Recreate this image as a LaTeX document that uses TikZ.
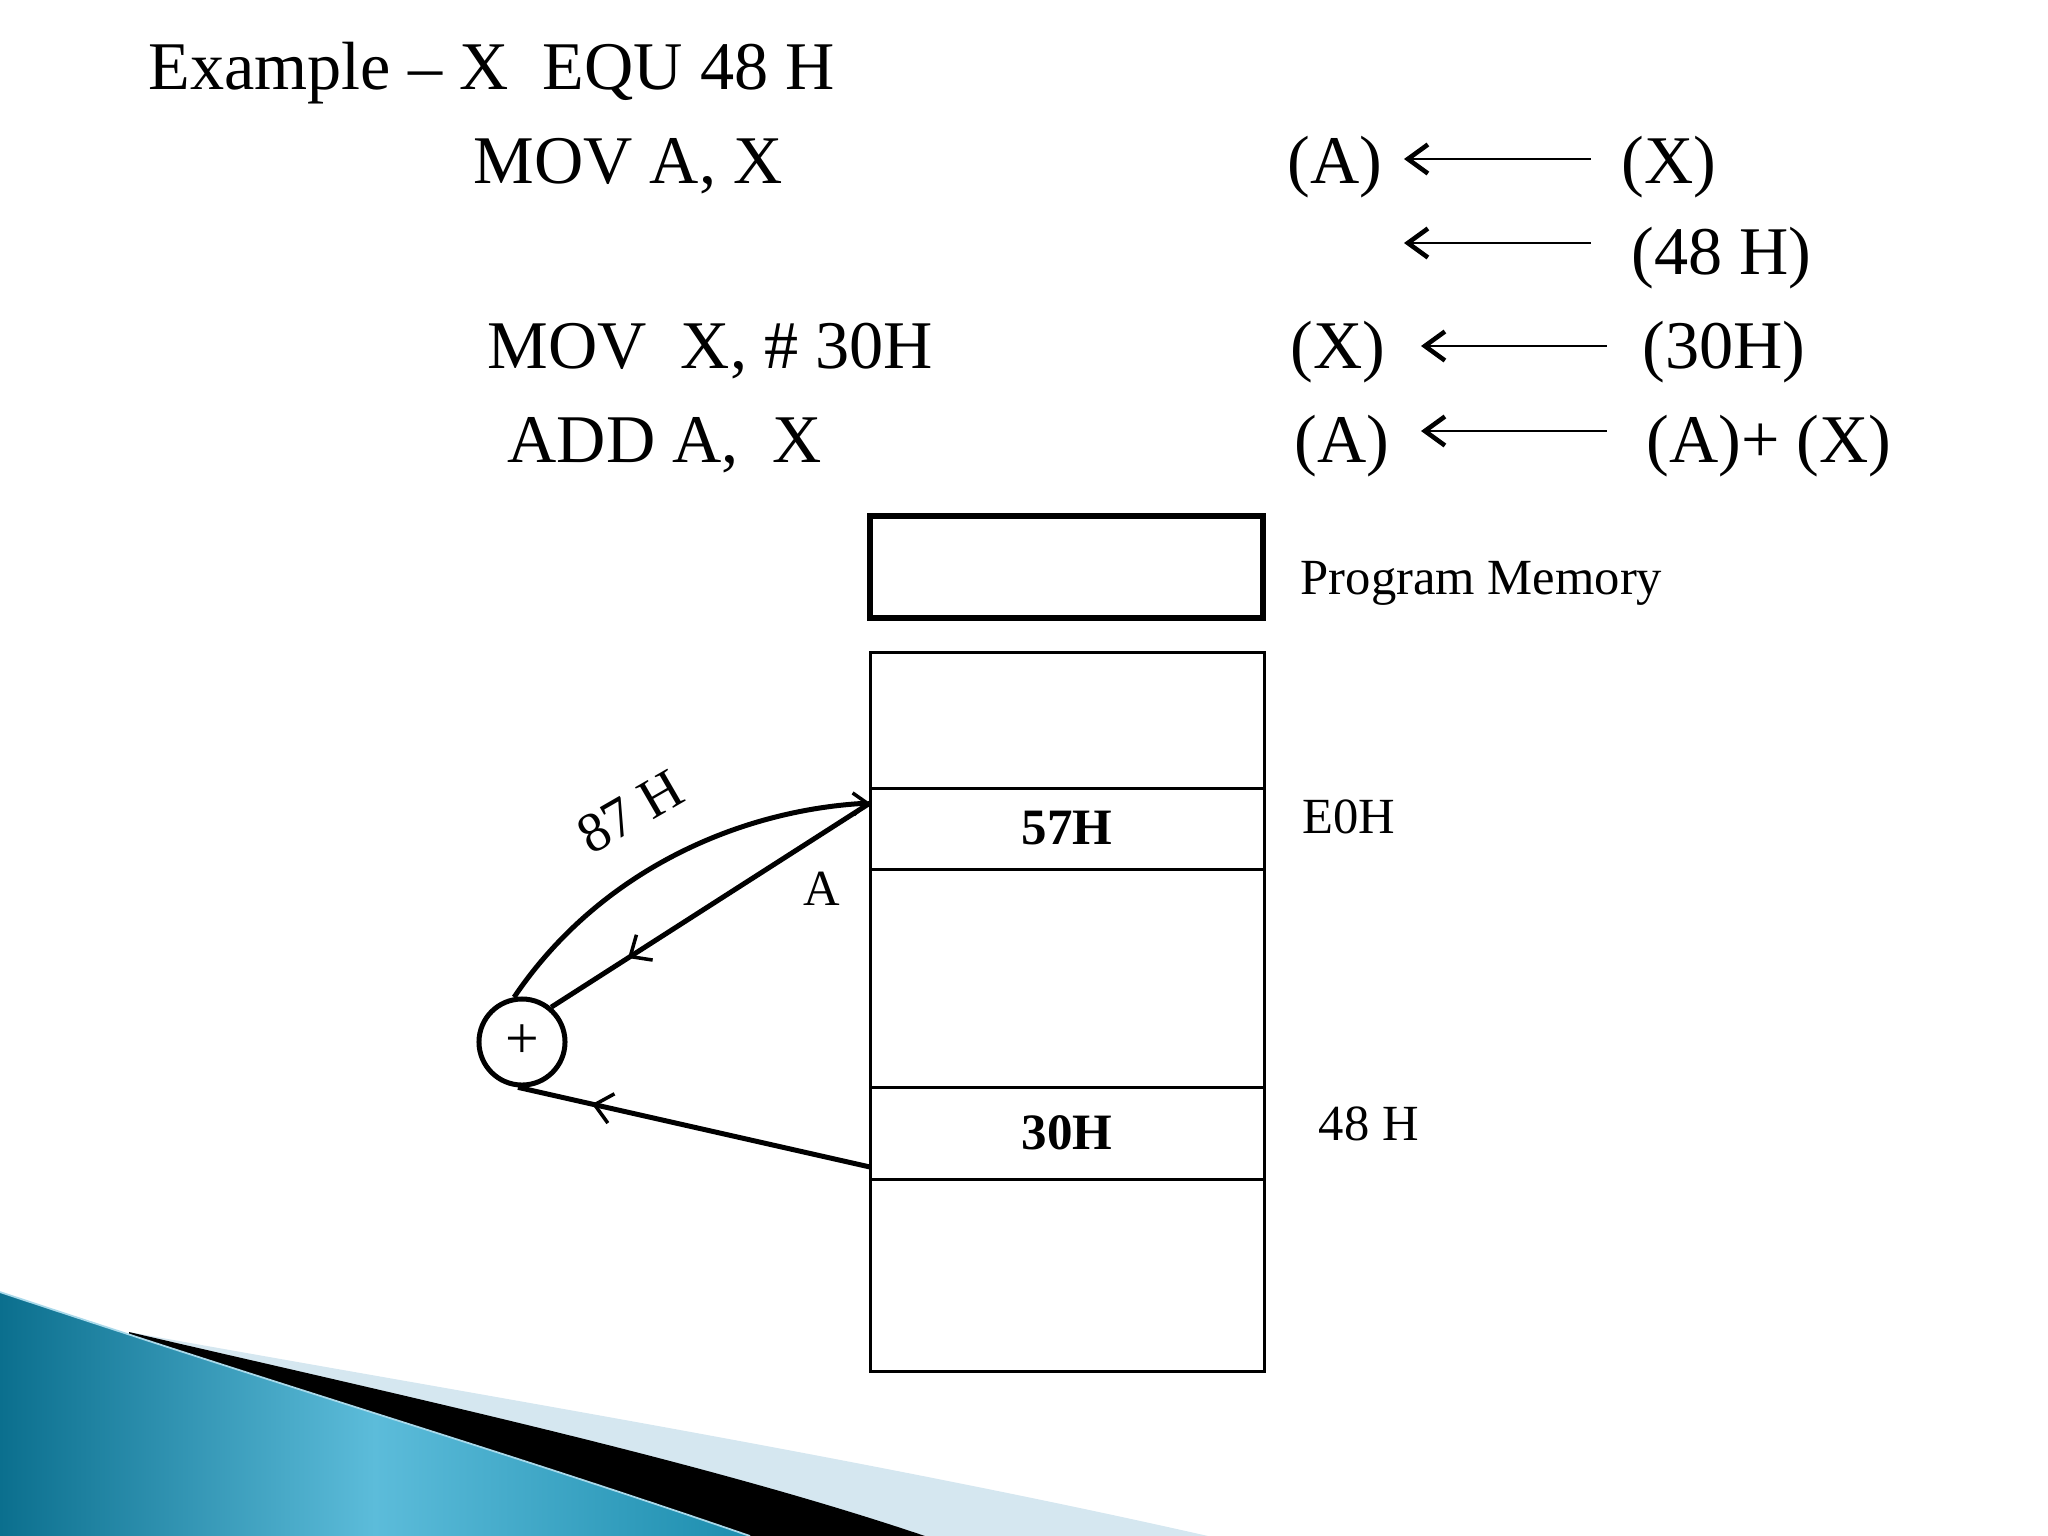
\documentclass[tikz,border=0pt]{standalone}
\usepackage{fontspec}
\setmainfont{Liberation Serif}
\usetikzlibrary{arrows.meta,decorations.markings}
\definecolor{tealdark}{HTML}{0B6F8E}
\definecolor{teallight}{HTML}{5CBCDA}
\definecolor{tealmid}{HTML}{1C8DAE}
\definecolor{palebl}{HTML}{D5E7F0}
\definecolor{edgehl}{HTML}{A9D9EA}
\begin{document}
\begin{tikzpicture}[x=0.01cm,y=-0.01cm,
  big/.style={font=\fontsize{19.4}{23}\selectfont, inner sep=0pt, anchor=base west},
  small/.style={font=\fontsize{14.4}{17}\selectfont, inner sep=0pt, anchor=base west},
  eqarrow/.style={line width=0.65pt, {Straight Barb[length=0.2cm,width=0.29cm,line width=1.3pt]}-},
  cell/.style={draw, line width=0.85pt, minimum width=3.94cm, inner sep=0pt, outer sep=0pt,
    anchor=north west, font=\bfseries\fontsize{14.5}{17}\selectfont},
  conn/.style={line width=1.42pt},
  midarrow/.style={postaction={decorate}, decoration={markings,
    mark=at position #1 with {\arrow{Straight Barb[length=0.17cm,width=0.3cm,line width=1pt]}}}}
]
\useasboundingbox (0,0) rectangle (2048,1536);

% ---- decorative swoosh, bottom left ----
\fill[palebl] (129,1332) .. controls (450,1390) and (850,1455) .. (1208,1536) -- (129,1536) -- cycle;
\fill[black] (129,1332) .. controls (400,1395) and (700,1460) .. (925,1536) -- (129,1536) -- cycle;
\shade[left color=tealdark, right color=tealmid, middle color=teallight]
  (0,1292) .. controls (300,1392) and (500,1450) .. (750,1536) -- (0,1536) -- cycle;
\draw[edgehl, line width=0.5pt] (0,1292) .. controls (300,1392) and (500,1450) .. (750,1536);

% ---- instructions ----
\node[big] (title) at (148,89) {Example – X~~EQU 48 H};
\node[big] (mov1) at (473,183) {MOV A, X};
\node[big] (a1) at (1287,183) {(A)};
\node[big] (x1) at (1621,183) {(X)};
\node[big] (h48) at (1631,274) {(48 H)};
\node[big] (mov2) at (487,368) {MOV~~X, \# 30H};
\node[big] (x2) at (1290,368) {(X)};
\node[big] (h30) at (1642,368) {(30H)};
\node[big] (add) at (507,462) {ADD A,~~X};
\node[big] (a3) at (1294,462) {(A)};
\node[big] (ax3) at (1646,462) {(A)+ (X)};

\coordinate (r1t) at (1404,159); \coordinate (r1e) at (1591,159);
\coordinate (r2t) at (1404,243); \coordinate (r2e) at (1591,243);
\coordinate (r3t) at (1421,346); \coordinate (r3e) at (1607,346);
\coordinate (r4t) at (1421,431); \coordinate (r4e) at (1607,431);
\draw[eqarrow] (r1t) -- (r1e);
\draw[eqarrow] (r2t) -- (r2e);
\draw[eqarrow] (r3t) -- (r3e);
\draw[eqarrow] (r4t) -- (r4e);

% ---- memory ----
\node[draw, line width=1.7pt, minimum width=3.93cm, minimum height=1.02cm, anchor=north west,
  inner sep=0pt, outer sep=0pt] (prog) at (870,516) {};
\node[small] (proglbl) at (1300,594) {Program Memory};

\node[cell, minimum height=1.36cm] (c1) at (870,652) {};
\node[cell, minimum height=0.81cm] (ce0) at (870,788) {57H};
\node[cell, minimum height=2.18cm] (c3) at (870,869) {};
\node[cell, minimum height=0.92cm] (c48) at (870,1087) {30H};
\node[cell, minimum height=1.92cm] (c5) at (870,1179) {};

\node[small] (e0lbl) at (1302,833) {E0H};
\node[small] (h48lbl) at (1318,1140) {48 H};

% ---- adder ----
\node[circle, draw, line width=1.42pt, minimum size=0.86cm, inner sep=0pt,
  font=\fontsize{17}{19}\selectfont] (sum) at (522,1042) {+};

\coordinate (pA) at (870,803);
\coordinate (pX) at (870,1167);

\draw[conn, midarrow=0.76] (pA) -- (sum.50);
\draw[conn, -{Straight Barb[length=0.14cm,width=0.22cm,line width=1pt]}]
  (sum.100) .. controls (600,870) and (740,810) .. (pA);
\draw[conn, midarrow=0.79] (pX) -- (sum.265);

\node[small] (albl) at (803,905) {A};
\node[font=\fontsize{16}{18}\selectfont, inner sep=0pt, rotate=30] (lbl87) at (630,812) {87~H};
\end{tikzpicture}
\end{document}
